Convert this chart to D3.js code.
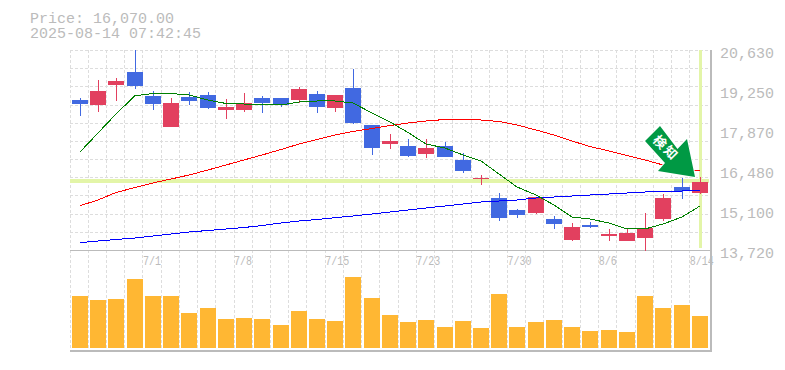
<!DOCTYPE html>
<html lang="ja">
    <head>
        <meta charset="UTF-8" />
        <title>Chart</title>
        <style>
            html, body { margin: 0; padding: 0; background: #fff; }
            svg { display: block; }
            text { font-family: "Liberation Mono", monospace; fill: #bbb; }
            .grid line { stroke: #ddd; stroke-dasharray: 3 2; shape-rendering: crispEdges; }
            .ma { fill: none; stroke-width: 1; shape-rendering: crispEdges; }
        </style>
    </head>
    <body>
        <div class="chart"></div>

        <script src="https://d3js.org/d3.v7.min.js"></script>

        <script>
            const dates = ['6/25','6/26','6/27','6/30','7/1','7/2','7/3','7/4','7/7','7/8','7/9','7/10','7/11','7/14','7/15','7/16','7/17','7/18','7/22','7/23','7/24','7/25','7/28','7/29','7/30','7/31','8/1','8/4','8/5','8/6','8/7','8/8','8/12','8/13','8/14']
            const dateTicks = ['7/1','7/8','7/15','7/23','7/30','8/6','8/14']
            const priceTicks = [20630, 19250, 17870, 16480, 15100, 13720]
            const lastPrice = 16070
            const titleLines = ['Price: 16,070.00', '2025-08-14 07:42:45']

            const opens  = [18903,18730,19421,19870,19041,17970,19006,19075,18557,18557,18972,18972,18903,19110,18626,19317,18039,17382,17313,17037,17313,16830,16173,15517,15102,14998,14791,14065,14584,14204,14031,14135,14791,15897,15689]
            const closes = [18764,19213,19559,19386,18764,18799,18868,18626,18661,18799,18799,18730,19283,18661,19075,18108,17244,17486,16968,17244,16933,16449,16208,14826,14929,15551,14618,14515,14515,14273,14307,14480,15517,15758,16070]
            const highs  = [18972,19594,19663,20630,19213,18972,19179,19179,18937,19144,19041,18972,19352,19213,19075,19974,18039,17728,17555,17555,17451,17071,16311,15689,15137,15551,14895,14653,14687,14446,14446,14998,15655,16208,16242]
            const lows   = [18350,18488,18868,19283,18557,17970,18730,18592,18246,18488,18453,18661,18799,18453,18488,18073,17002,17210,16933,16899,16933,16380,15966,14722,14826,14964,14446,14031,14480,14031,14031,13685,14722,15482,15655]

            const ma5  = [17106,17762,18419,19051,19127,19127,19075,18903,18782,18764,18764,18730,18833,18868,18868,18799,18453,18142,17780,17382,17244,17002,16795,16346,15897,15620,15275,14860,14791,14653,14446,14446,14618,14860,15240]
            const ma25 = [15251,15447,15707,15879,16035,16173,16311,16484,16657,16830,17002,17192,17382,17538,17693,17814,17918,18021,18108,18177,18229,18246,18212,18160,18039,17866,17693,17486,17296,17140,16985,16830,16657,16553,16449]
            const ma75 = [13972,14031,14083,14135,14204,14273,14342,14394,14446,14497,14566,14653,14722,14774,14836,14895,14964,15033,15102,15171,15240,15309,15378,15413,15447,15517,15551,15586,15620,15655,15689,15724,15741,15758,15793]

            const volumes = [5200,4800,4900,6900,5200,5200,3500,4000,2900,3000,2900,2300,3700,2900,2700,7100,5000,3300,2600,2800,2100,2700,2000,5400,2100,2600,2800,2100,1700,1800,1600,5200,4000,4300,3200]

            const width = 785
            const height = 370

            const svg = d3.select('.chart')
              .append('svg')
              .attr('width', width)
              .attr('height', height)

            // 比例尺
            const x = d3.scaleBand().domain(dates).range([70, 708])
            const y = d3.scaleLinear().domain([13720, 20630]).range([250, 50])
            const yVol = d3.scaleLinear().domain([0, 9800]).range([348, 250])
            const gridY = d3.scaleLinear().domain([0, 11]).range([50, 250])

            const mid = (d) => Math.round(x(d) + 2) + 8

            // 格線
            const grid = svg.append('g').attr('class', 'grid')
            grid.selectAll('.v')
              .data(dates)
              .enter().append('line')
              .attr('class', 'v')
              .attr('x1', (d) => Math.floor(x(d)) + 0.5)
              .attr('x2', (d) => Math.floor(x(d)) + 0.5)
              .attr('y1', 50)
              .attr('y2', 350)
            grid.selectAll('.h')
              .data(d3.range(11))
              .enter().append('line')
              .attr('class', 'h')
              .attr('x1', 70)
              .attr('x2', 710)
              .attr('y1', (d) => Math.round(gridY(d)) + 0.5)
              .attr('y2', (d) => Math.round(gridY(d)) + 0.5)

            // 現在值 高亮線
            const lastDate = dates[dates.length - 1]
            svg.append('rect')
              .attr('x', 70)
              .attr('width', 639)
              .attr('y', y(lastPrice) - 2.5)
              .attr('height', 4)
              .attr('fill', '#e3f5a8')
              .attr('shape-rendering', 'crispEdges')
            svg.append('rect')
              .attr('x', mid(lastDate) - 1)
              .attr('width', 3)
              .attr('y', 50)
              .attr('height', 198)
              .attr('fill', '#e3f5a8')
              .attr('shape-rendering', 'crispEdges')

            // 外框
            const frame = svg.append('g').attr('stroke', '#bbb').attr('shape-rendering', 'crispEdges')
            frame.append('line').attr('x1', 70).attr('x2', 711).attr('y1', 250.5).attr('y2', 250.5)
            frame.append('line').attr('x1', 70).attr('x2', 712).attr('y1', 351).attr('y2', 351).attr('stroke-width', 2)
            frame.append('line').attr('x1', 711).attr('x2', 711).attr('y1', 50).attr('y2', 352).attr('stroke-width', 2)

            // 成交量
            svg.selectAll('.vol')
              .data(dates)
              .enter().append('rect')
              .attr('class', 'vol')
              .attr('x', (d) => Math.round(x(d) + 2))
              .attr('width', 16)
              .attr('y', (d, i) => Math.round(yVol(volumes[i])))
              .attr('height', (d, i) => 348 - Math.round(yVol(volumes[i])))
              .attr('fill', '#ffb733')

            // K 線
            const candles = svg.append('g').attr('shape-rendering', 'crispEdges')
            const candleColor = (i) => (closes[i] >= opens[i] ? '#e2405f' : '#4169e1')
            candles.selectAll('line')
              .data(dates)
              .enter().append('line')
              .attr('x1', (d) => mid(d) + 0.5)
              .attr('x2', (d) => mid(d) + 0.5)
              .attr('y1', (d, i) => Math.round(y(highs[i])))
              .attr('y2', (d, i) => Math.round(y(lows[i])))
              .attr('stroke', (d, i) => candleColor(i))
            candles.selectAll('rect')
              .data(dates)
              .enter().append('rect')
              .attr('x', (d) => Math.round(x(d) + 2))
              .attr('width', 16)
              .attr('y', (d, i) => Math.round(y(Math.max(opens[i], closes[i]))))
              .attr('height', (d, i) => Math.max(1, Math.round(y(Math.min(opens[i], closes[i]))) - Math.round(y(Math.max(opens[i], closes[i])))))
              .attr('fill', (d, i) => candleColor(i))

            // 移動平均線
            const maLine = d3.line()
              .x((d, i) => mid(dates[i]))
              .y((d) => y(d))
            svg.append('path').attr('class', 'ma').attr('d', maLine(ma75)).attr('stroke', '#0000ff')
            svg.append('path').attr('class', 'ma').attr('d', maLine(ma25)).attr('stroke', '#ff0000')
            svg.append('path').attr('class', 'ma').attr('d', maLine(ma5)).attr('stroke', '#008000')

            // 箭頭
            const arrowOffsets = [[-40.5, -56], [-23, -33], [-13.5, -43], [-5.5, -5], [-42.5, -11], [-35.5, -19], [-55.5, -41]]
            const arrowX = mid(lastDate) + 0.5
            const arrowY = y(lastPrice)
            const arrow = svg.append('g').attr('transform', `translate(${arrowX}, ${arrowY})`)
            arrow.append('polygon')
              .attr('points', arrowOffsets.map((p) => p.join(',')).join(' '))
              .attr('fill', '#009944')
              .attr('stroke', '#fff')
              .attr('stroke-width', 2)
              .attr('paint-order', 'stroke')
            arrow.append('text')
              .attr('transform', 'translate(-34.5, -34) rotate(45)')
              .attr('text-anchor', 'middle')
              .attr('dy', '0.36em')
              .style('font-family', '"Noto Sans CJK JP"')
              .style('font-weight', 700)
              .style('font-size', '13px')
              .style('letter-spacing', '2px')
              .style('fill', '#fff')
              .text('検知')

            // 軸
            const yAxis = d3.axisRight(y)
              .tickValues(priceTicks)
              .tickFormat(d3.format(','))
              .tickSize(0)
              .tickPadding(10)
            const yAxisGroup = svg.append('g')
              .attr('transform', 'translate(710, 3)')
              .call(yAxis)
            yAxisGroup.select('.domain').remove()
            yAxisGroup.selectAll('text')
              .attr('dy', '0.32em')
              .style('font-family', '"Liberation Mono", monospace')
              .style('font-size', '15px')
              .style('fill', '#bbb')

            const xAxis = d3.axisBottom(x)
              .tickValues(dateTicks)
              .tickSize(0)
              .tickPadding(0)
            const xAxisGroup = svg.append('g')
              .attr('transform', 'translate(0, 256)')
              .call(xAxis)
            xAxisGroup.select('.domain').remove()
            xAxisGroup.selectAll('text')
              .attr('x', -x.bandwidth() / 2)
              .attr('text-anchor', 'start')
              .attr('textLength', (d) => d.length * 6)
              .attr('lengthAdjust', 'spacingAndGlyphs')
              .style('font-family', '"Liberation Mono", monospace')
              .style('font-size', '12px')
              .style('fill', '#bbb')

            // 標題
            svg.selectAll('.title')
              .data(titleLines)
              .enter().append('text')
              .attr('class', 'title')
              .attr('x', 30)
              .attr('y', (d, i) => 23 + i * 15)
              .style('font-size', '15px')
              .text((d) => d)
        </script>
    </body>
</html>
